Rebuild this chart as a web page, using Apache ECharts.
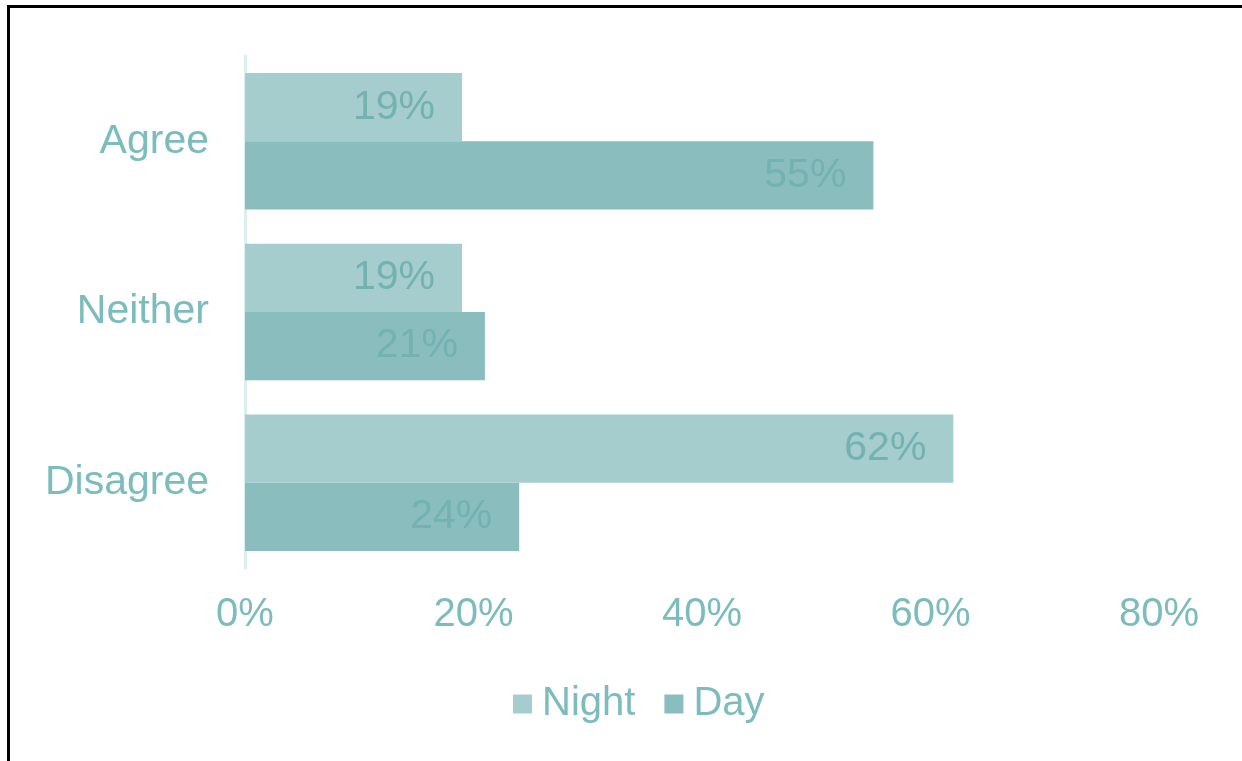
<!DOCTYPE html>
<html>
<head>
<meta charset="utf-8">
<script src="https://cdn.jsdelivr.net/npm/echarts@6/dist/echarts.min.js"></script>
<style>
html,body{margin:0;padding:0;background:#fff;}
#chart{width:1242px;height:761px;}
</style>
</head>
<body>
<div id="chart"></div>
<script>
const categories = ['Agree', 'Neither', 'Disagree'];
const nightValues = [19, 19, 62];
const dayValues = [55, 21, 24];
const xTicks = [0, 20, 40, 60, 80];

const FONT = '"Liberation Sans", Arial, sans-serif';
const TEXT = '#7cbcbc';
const LABEL = '#74b1b1';

const chart = echarts.init(document.getElementById('chart'), null, {renderer: 'canvas'});
chart.setOption({
  animation: false,
  backgroundColor: '#ffffff',
  textStyle: {fontFamily: FONT},
  graphic: [
    {type: 'line', shape: {x1: 8.5, y1: 5, x2: 8.5, y2: 761}, style: {stroke: '#000', lineWidth: 3}},
    {type: 'line', shape: {x1: 7, y1: 6.5, x2: 1242, y2: 6.5}, style: {stroke: '#000', lineWidth: 3}}
  ],
  legend: {
    data: ['Night', 'Day'],
    left: 508,
    top: 679,
    itemWidth: 19,
    itemHeight: 19,
    itemGap: 29,
    icon: 'rect',
    textStyle: {color: TEXT, fontSize: 40, fontFamily: FONT, padding: [0, 0, 0, 5]}
  },
  grid: {left: 245, right: 83, top: 56, bottom: 193, containLabel: false},
  xAxis: {
    type: 'value',
    min: xTicks[0],
    max: xTicks[xTicks.length - 1],
    interval: 20,
    axisLine: {show: false},
    axisTick: {show: false},
    splitLine: {show: false},
    axisLabel: {
      color: TEXT, fontSize: 40, fontFamily: FONT, margin: 27,
      formatter: v => v + '%'
    }
  },
  yAxis: {
    type: 'category',
    data: categories,
    inverse: true,
    axisLine: {show: true, lineStyle: {color: '#dcefef', width: 3}},
    axisTick: {show: false},
    axisLabel: {color: TEXT, fontSize: 41, fontFamily: FONT, margin: 36}
  },
  series: [
    {
      name: 'Night', type: 'bar', data: nightValues,
      barGap: '0%', barCategoryGap: '20%',
      itemStyle: {color: '#a5cdce'},
      label: {show: true, position: 'insideRight', distance: 27, color: LABEL, fontSize: 41, fontFamily: FONT, formatter: p => p.value + '%'}
    },
    {
      name: 'Day', type: 'bar', data: dayValues,
      barGap: '0%', barCategoryGap: '20%',
      itemStyle: {color: '#89bdbe'},
      label: {show: true, position: 'insideRight', distance: 27, color: LABEL, fontSize: 41, fontFamily: FONT, formatter: p => p.value + '%'}
    }
  ]
});
</script>
</body>
</html>
